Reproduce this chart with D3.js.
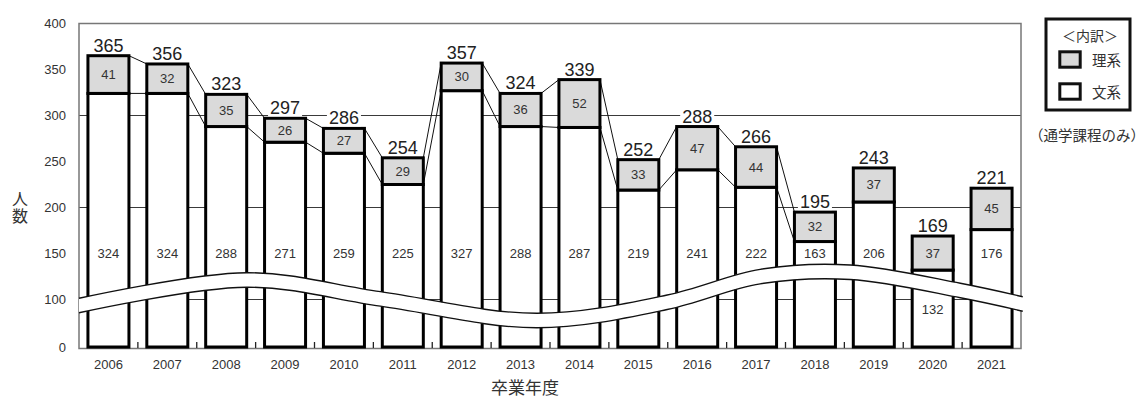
<!DOCTYPE html>
<html>
<head>
<meta charset="utf-8">
<script src="https://cdn.jsdelivr.net/npm/d3@7"></script>
<style>
  body { margin: 0; background: #fff; }
  svg { display: block; }
</style>
</head>
<body>
<svg id="chart" width="1144" height="398"></svg>
<script>
// Graduates per year, split into humanities (文系) and sciences (理系)
const years  = ["2006","2007","2008","2009","2010","2011","2012","2013","2014","2015","2016","2017","2018","2019","2020","2021"];
const bunkei = [324, 324, 288, 271, 259, 225, 327, 288, 287, 219, 241, 222, 163, 206, 132, 176];
const rikei  = [41, 32, 35, 26, 27, 29, 30, 36, 52, 33, 47, 44, 32, 37, 37, 45];

// Axis settings
const yTicks     = [0, 100, 150, 200, 250, 300, 350, 400];
const gridValues = [100, 200, 300];
const connectThrough = "2018";   // step lines join consecutive bars up to this year

// Axis-break wave: [position in category units, value]
const breakWave = [[0, 101.3], [2.85, 129.1], [5.12, 108.5], [7.78, 70.9], [9.99, 104.9],
                   [11.57, 132.8], [13.1, 137.5], [14.97, 117.6], [16.03, 103.0]];

const totals = bunkei.map((b, i) => b + rikei[i]);

const svg = d3.select("#chart");
const left = 79, right = 1021;
const latin = "'Liberation Sans', Arial, Helvetica, sans-serif";
const cjk = "'Noto Sans CJK JP', 'Noto Sans CJK SC', sans-serif";

const x = d3.scaleBand().domain(years).range([left, right]).paddingInner(0.2526).paddingOuter(0.1263);
const xi = d3.scaleLinear().domain([0, years.length]).range([left, right]);
// Broken scale: 0–100 compressed below the wave
const y = d3.scaleLinear().domain([0, 100, 400]).range([347, 299.5, 23.5]);
const bw = x.bandwidth();

// Gridlines
svg.append("g").selectAll("line").data(gridValues).join("line")
  .attr("x1", left).attr("x2", right)
  .attr("y1", d => y(d)).attr("y2", d => y(d))
  .attr("stroke", "#3a3a3a").attr("stroke-width", 1);

// Plot frame
svg.append("rect")
  .attr("x", left).attr("y", y(400))
  .attr("width", right - left).attr("height", y(0) - y(400) + 1.5)
  .attr("fill", "none").attr("stroke", "#777").attr("stroke-width", 1.5);

// Y tick labels
svg.append("g").selectAll("text").data(yTicks).join("text")
  .attr("x", 66).attr("y", d => y(d))
  .attr("text-anchor", "end").attr("dominant-baseline", "central")
  .attr("font-family", latin).attr("font-size", 13).attr("fill", "#333")
  .text(d => d);

// Small ticks between categories
svg.append("g").selectAll("line").data(d3.range(1, years.length)).join("line")
  .attr("x1", d => xi(d)).attr("x2", d => xi(d))
  .attr("y1", y(0) + 1).attr("y2", y(0) - 5)
  .attr("stroke", "#222").attr("stroke-width", 1.3);

// X labels
svg.append("g").selectAll("text").data(years).join("text")
  .attr("x", d => x(d) + bw / 2).attr("y", 364)
  .attr("text-anchor", "middle").attr("dominant-baseline", "central")
  .attr("font-family", latin).attr("font-size", 13).attr("fill", "#333")
  .text(d => d);

// Connector lines between consecutive bars
const lastIdx = years.indexOf(connectThrough);
const links = d3.range(0, lastIdx).flatMap(i => [
  { x1: x(years[i]) + bw - 1.5, y1: y(totals[i]), x2: x(years[i + 1]) + 1.5, y2: y(totals[i + 1]) },
  { x1: x(years[i]) + bw - 1.5, y1: y(bunkei[i]), x2: x(years[i + 1]) + 1.5, y2: y(bunkei[i + 1]) }
]);
svg.append("g").selectAll("line").data(links).join("line")
  .attr("x1", d => d.x1).attr("y1", d => d.y1)
  .attr("x2", d => d.x2).attr("y2", d => d.y2)
  .attr("stroke", "#111").attr("stroke-width", 1);

// Stacked bars
const bars = svg.append("g").selectAll("g").data(years).join("g");
bars.append("rect")
  .attr("x", d => x(d) + 1.5).attr("width", bw - 3)
  .attr("y", (d, i) => y(bunkei[i])).attr("height", (d, i) => y(0) - y(bunkei[i]))
  .attr("fill", "#fff").attr("stroke", "#000").attr("stroke-width", 3);
bars.append("rect")
  .attr("x", d => x(d) + 1.5).attr("width", bw - 3)
  .attr("y", (d, i) => y(totals[i])).attr("height", (d, i) => y(bunkei[i]) - y(totals[i]))
  .attr("fill", "#dadada").attr("stroke", "#000").attr("stroke-width", 3);

// Wave band marking the axis break
const band = 14.5;
const waveCurve = d3.curveCatmullRom.alpha(0.5);
const wavePts = breakWave.map(([t, v]) => [xi(t), y(v)]);
svg.append("path")
  .attr("d", d3.area().x(d => d[0]).y0(d => d[1]).y1(d => d[1] + band).curve(waveCurve)(wavePts))
  .attr("fill", "#fff");
const waveLine = d3.line().curve(waveCurve);
[0, band].forEach(off => {
  svg.append("path")
    .attr("d", waveLine(wavePts.map(([px, py]) => [px, py + off])))
    .attr("fill", "none").attr("stroke", "#111").attr("stroke-width", 1.4);
});

// 文系 values
bars.append("text")
  .attr("x", d => x(d) + bw / 2)
  .attr("y", (d, i) => y(bunkei[i] >= 150 ? 150 : 80))
  .attr("text-anchor", "middle").attr("dominant-baseline", "central")
  .attr("font-family", latin).attr("font-size", 13).attr("fill", "#333")
  .text((d, i) => bunkei[i]);

// 理系 values
bars.append("text")
  .attr("x", d => x(d) + bw / 2)
  .attr("y", (d, i) => (y(totals[i]) + y(bunkei[i])) / 2)
  .attr("text-anchor", "middle").attr("dominant-baseline", "central")
  .attr("font-family", latin).attr("font-size", 13).attr("fill", "#333")
  .text((d, i) => rikei[i]);

// Totals above bars, on a white backing so gridlines break around them
bars.each(function (d, i) {
  const g = d3.select(this);
  const bg = g.append("rect").attr("fill", "#fff");
  const t = g.append("text")
    .attr("x", x(d) + bw / 2).attr("y", y(totals[i]) - 4)
    .attr("text-anchor", "middle")
    .attr("font-family", latin).attr("font-size", 18).attr("fill", "#222")
    .text(totals[i]);
  const b = t.node().getBBox();
  bg.attr("x", b.x - 2).attr("y", b.y + 3).attr("width", b.width + 4).attr("height", b.height - 5);
});

// Axis titles
svg.append("text")
  .attr("x", 525).attr("y", 386)
  .attr("text-anchor", "middle").attr("dominant-baseline", "central")
  .attr("font-family", cjk).attr("font-size", 17).attr("fill", "#333")
  .text("卒業年度");
svg.append("text")
  .attr("x", 20).attr("y", 208)
  .attr("writing-mode", "vertical-rl")
  .attr("text-anchor", "middle")
  .attr("letter-spacing", 1)
  .attr("font-family", cjk).attr("font-size", 16).attr("fill", "#333")
  .text("人数");

// Legend
const lg = svg.append("g");
lg.append("rect").attr("x", 1046).attr("y", 19).attr("width", 84).attr("height", 91)
  .attr("fill", "#fff").attr("stroke", "#111").attr("stroke-width", 3);
lg.append("text").attr("x", 1090).attr("y", 35)
  .attr("text-anchor", "middle").attr("dominant-baseline", "central")
  .attr("font-family", cjk).attr("font-size", 14).attr("fill", "#333")
  .text("＜内訳＞");
const legendItems = [{ label: "理系", fill: "#dadada" }, { label: "文系", fill: "#fff" }];
legendItems.forEach((it, k) => {
  const cy = 59.5 + k * 32;
  lg.append("rect").attr("x", 1059.8).attr("y", cy - 7.7).attr("width", 20.4).attr("height", 15.4)
    .attr("fill", it.fill).attr("stroke", "#111").attr("stroke-width", 3);
  lg.append("text").attr("x", 1092).attr("y", cy)
    .attr("dominant-baseline", "central")
    .attr("font-family", cjk).attr("font-size", 14.5).attr("fill", "#333")
    .text(it.label);
});
svg.append("text").attr("x", 1087).attr("y", 134)
  .attr("text-anchor", "middle").attr("dominant-baseline", "central")
  .attr("font-family", cjk).attr("font-size", 14.5).attr("fill", "#333")
  .text("（通学課程のみ）");
</script>
</body>
</html>
